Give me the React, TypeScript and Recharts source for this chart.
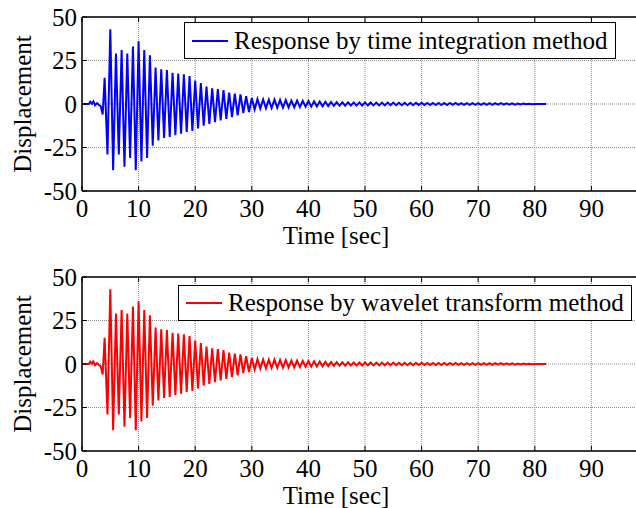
import React from 'react';
import { LineChart, Line, XAxis, YAxis, CartesianGrid } from 'recharts';

// sample times [sec] (peaks / troughs of the response)
const timeSec = [
    0, 1.2, 1.45, 1.75, 2, 2.3, 2.65, 3, 3.3, 3.65,
    4, 4.5, 5, 5.5, 6, 6.5, 7, 7.5, 8, 8.5, 9, 9.5,
    10, 10.5, 11, 11.5, 12, 12.5, 13, 13.5, 14, 14.5, 15, 15.5, 16, 16.5, 17, 17.5, 18, 18.5, 19, 19.5,
    20, 20.5, 21, 21.5, 22, 22.5, 23, 23.5, 24, 24.5, 25, 25.5, 26, 26.5, 27, 27.5, 28, 28.5, 29, 29.5,
    30, 30.5, 31, 31.5, 32, 32.5, 33, 33.5, 34, 34.5, 35, 35.5, 36, 36.5, 37, 37.5, 38, 38.5, 39, 39.5,
    40, 40.5, 41, 41.5, 42, 42.5, 43, 43.5, 44, 44.5, 45, 45.5, 46, 46.5, 47, 47.5, 48, 48.5, 49, 49.5,
    50, 50.5, 51, 51.5, 52, 52.5, 53, 53.5, 54, 54.5, 55, 55.5, 56, 56.5, 57, 57.5, 58, 58.5, 59, 59.5,
    60, 60.5, 61, 61.5, 62, 62.5, 63, 63.5, 64, 64.5, 65, 65.5, 66, 66.5, 67, 67.5, 68, 68.5, 69, 69.5,
    70, 70.5, 71, 71.5, 72, 72.5, 73, 73.5, 74, 74.5, 75, 75.5, 76, 76.5, 77, 77.5, 78, 78.5, 79, 79.5,
    80, 80.5, 81, 81.5, 82
];

// displacement, time integration method
const dispTimeIntegration = [
    0, 0, 1.3, 0.1, 1.5, -0.7, 0.5, -0.6, -1.2, -6,
    15, -29, 43, -38, 29, -29, 31, -36, 29, -31, 33, -38,
    36, -33, 31, -31, 28, -24, 21, -21, 20, -19.5, 19.5, -19, 18, -18, 17.5, -17, 17, -16, 16, -15.5,
    13.5, -14, 12, -12.5, 10, -11.5, 9, -10.5, 8.5, -9.5, 8, -8.5, 6.5, -7.5, 6, -6.5, 5.5, -5.2, 4.5, -4.6,
    3.4, -3.2, 2.8, -2.6, 2.6, -2.4, 2.5, -2.3, 2.5, -2.2, 2.3, -2.1, 2.2, -2.0, 2.0, -1.9, 2.0, -1.8, 1.8, -1.6,
    1.7, -1.5, 1.5, -1.4, 1.4, -1.3, 1.3, -1.2, 1.2, -1.1, 1.1, -1.0, 1.0, -1.0, 1.0, -0.9, 0.9, -0.9, 0.9, -0.9,
    0.9, -0.8, 0.9, -0.8, 0.8, -0.8, 0.8, -0.8, 0.8, -0.7, 0.8, -0.7, 0.7, -0.7, 0.7, -0.7, 0.7, -0.7, 0.7, -0.6,
    0.7, -0.6, 0.6, -0.6, 0.6, -0.6, 0.6, -0.6, 0.6, -0.6, 0.6, -0.5, 0.6, -0.5, 0.5, -0.5, 0.5, -0.5, 0.5, -0.5,
    0.5, -0.5, 0.5, -0.5, 0.5, -0.5, 0.5, -0.4, 0.5, -0.4, 0.4, -0.4, 0.4, -0.4, 0.3, -0.3, 0.2, -0.15, 0.1, -0.1,
    0.05, -0.05, 0, 0, 0
];

// the wavelet result overlaps the time-integration one at this scale
const dispWavelet = [
    0, 0, 1.3, 0.1, 1.5, -0.7, 0.5, -0.6, -1.2, -6,
    15, -29, 43, -38, 29, -29, 31, -36, 29, -31, 33, -38,
    36, -33, 31, -31, 28, -24, 21, -21, 20, -19.5, 19.5, -19, 18, -18, 17.5, -17, 17, -16, 16, -15.5,
    13.5, -14, 12, -12.5, 10, -11.5, 9, -10.5, 8.5, -9.5, 8, -8.5, 6.5, -7.5, 6, -6.5, 5.5, -5.2, 4.5, -4.6,
    3.4, -3.2, 2.8, -2.6, 2.6, -2.4, 2.5, -2.3, 2.5, -2.2, 2.3, -2.1, 2.2, -2.0, 2.0, -1.9, 2.0, -1.8, 1.8, -1.6,
    1.7, -1.5, 1.5, -1.4, 1.4, -1.3, 1.3, -1.2, 1.2, -1.1, 1.1, -1.0, 1.0, -1.0, 1.0, -0.9, 0.9, -0.9, 0.9, -0.9,
    0.9, -0.8, 0.9, -0.8, 0.8, -0.8, 0.8, -0.8, 0.8, -0.7, 0.8, -0.7, 0.7, -0.7, 0.7, -0.7, 0.7, -0.7, 0.7, -0.6,
    0.7, -0.6, 0.6, -0.6, 0.6, -0.6, 0.6, -0.6, 0.6, -0.6, 0.6, -0.5, 0.6, -0.5, 0.5, -0.5, 0.5, -0.5, 0.5, -0.5,
    0.5, -0.5, 0.5, -0.5, 0.5, -0.5, 0.5, -0.4, 0.5, -0.4, 0.4, -0.4, 0.4, -0.4, 0.3, -0.3, 0.2, -0.15, 0.1, -0.1,
    0.05, -0.05, 0, 0, 0
];

const xTicks = [0, 10, 20, 30, 40, 50, 60, 70, 80, 90];
const yTicks = [-50, -25, 0, 25, 50];

const FONT = '"Liberation Serif", "Times New Roman", serif';
const tickStyle = { fill: '#000', fontSize: 25, fontFamily: FONT };

function Panel({ values, color, name, top, legendLeft, legendTop, legendHeight }: any) {
    const data = timeSec.map((t, i) => ({ t, y: values[i] }));
    return (
        <div style={{ position: 'absolute', left: 0, top }}>
            <LineChart width={680} height={260} data={data} margin={{ top: 16, right: 32, bottom: 29, left: 0 }}>
                <CartesianGrid stroke="#8c8c8c" strokeDasharray="1 1" />
                <XAxis
                    dataKey="t"
                    type="number"
                    domain={[0, 100]}
                    ticks={xTicks}
                    allowDataOverflow
                    height={40}
                    axisLine={{ stroke: '#000', strokeWidth: 1.5 }}
                    tickLine={{ stroke: '#000' }}
                    tickSize={-5}
                    tickMargin={13}
                    tick={tickStyle}
                    label={{ value: 'Time [sec]', position: 'bottom', offset: -5, dx: -29, style: { fill: '#000', fontSize: 25, fontFamily: FONT } }}
                />
                <XAxis
                    xAxisId="top"
                    orientation="top"
                    dataKey="t"
                    type="number"
                    domain={[0, 100]}
                    ticks={xTicks}
                    height={1}
                    axisLine={{ stroke: '#000', strokeWidth: 1.5 }}
                    tickLine={{ stroke: '#000' }}
                    tickSize={-5}
                    tickFormatter={() => ''}
                />
                <YAxis
                    type="number"
                    domain={[-50, 50]}
                    ticks={yTicks}
                    width={82}
                    axisLine={{ stroke: '#000', strokeWidth: 1.5 }}
                    tickLine={{ stroke: '#000' }}
                    tickSize={-5}
                    tickMargin={10}
                    tick={tickStyle}
                    label={{ value: 'Displacement', angle: -90, position: 'insideLeft', offset: 0, dx: 22, style: { textAnchor: 'middle', fill: '#000', fontSize: 25, fontFamily: FONT } }}
                />
                <Line
                    type="linear"
                    dataKey="y"
                    stroke={color}
                    strokeWidth={2}
                    dot={false}
                    isAnimationActive={false}
                />
            </LineChart>
            <div
                style={{
                    position: 'absolute',
                    left: legendLeft,
                    top: legendTop - top,
                    height: legendHeight - 2,
                    border: '1px solid #000',
                    background: '#fff',
                    padding: '0 7px 0 49px',
                    fontFamily: FONT,
                    fontSize: 25,
                    lineHeight: `${legendHeight - 2}px`,
                    color: '#000',
                    whiteSpace: 'nowrap'
                }}
            >
                <span style={{ position: 'absolute', left: 7, top: (legendHeight - 2) / 2 - 1, width: 36, height: 2, background: color }}></span>
                {name}
            </div>
        </div>
    );
}

export default function App() {
    return (
        <div style={{ position: 'absolute', left: 0, top: 0, width: 636, height: 508, overflow: 'hidden', background: '#fff' }}>
            <Panel values={dispTimeIntegration} color="#0000ff" name="Response by time integration method" top={0} legendLeft={184} legendTop={22} legendHeight={37} />
            <Panel values={dispWavelet} color="#ff0000" name="Response by wavelet transform method" top={260} legendLeft={178} legendTop={285} legendHeight={36} />
        </div>
    );
}
